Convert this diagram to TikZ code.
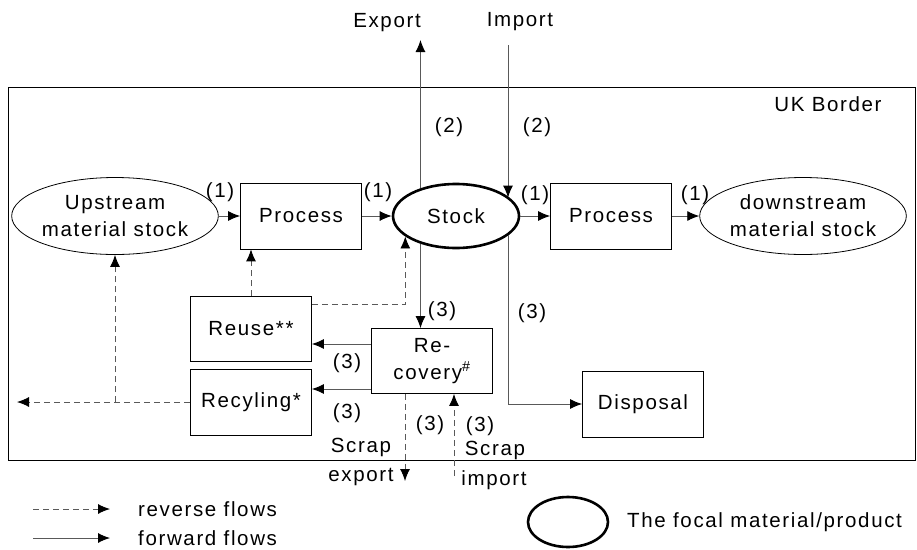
\documentclass[tikz,border=0pt]{standalone}
\usepackage{fontspec}
\setmainfont[LetterSpace=8]{Liberation Sans}
\usetikzlibrary{shapes.geometric,arrows.meta}
\definecolor{flowgray}{gray}{0.35}

\begin{document}
\begin{tikzpicture}[x=1pt,y=-1pt,
    font=\fontsize{20.5}{27}\selectfont,
    box/.style={draw, line width=0.8pt, minimum width=121pt, minimum height=66pt, inner sep=0pt, align=center},
    pool/.style={draw, line width=0.8pt, ellipse, minimum width=191pt, minimum height=77pt, inner sep=0pt, align=center},
    focal/.style={draw, ellipse, line width=2.6pt, minimum width=126pt, minimum height=64pt, inner sep=0pt, fill=white},
    flow/.style={draw=flowgray, line width=0.9pt, -{Latex[length=12pt,width=10pt,color=black]}},
    rflow/.style={flow, dash pattern=on 6pt off 4pt},
    lbl/.style={inner sep=0pt}]
    \useasboundingbox (0,0) rectangle (917,549);
    % UK border
    \draw[line width=0.8pt] (8,87) rectangle (915,460);
    \node[lbl] (border) at (828,104) {UK Border};
    % Main chain
    \node[pool] (upstream) at (115,216) {Upstream\\material stock};
    \node[box] (process1) at (301,216) {Process};
    \node[focal] (stock) at (456,216) {Stock};
    \node[box] (process2) at (611,216) {Process};
    \node[pool] (downstream) at (803,216) {downstream\\material stock};
    % End of life
    \node[box, minimum height=65pt] (reuse) at (251,329) {Reuse**};
    \node[box] (recycle) at (251,402) {Recyling*};
    \node[box, minimum height=65pt] (recovery) at (432,361) {Re-\\covery\textsuperscript{\#}};
    \node[box] (disposal) at (643,404) {Disposal};
    % Forward flows
    \draw[flow] (upstream) -- (process1);
    \draw[flow] (process1) -- (stock);
    \draw[flow] (stock) -- (process2);
    \draw[flow] (process2) -- (downstream);
    \node[lbl] (l1a) at (220,192) {(1)};
    \node[lbl] (l1b) at (378,192) {(1)};
    \node[lbl] (l1c) at (535,195) {(1)};
    \node[lbl] (l1d) at (695,195) {(1)};
    % Trade
    \node[lbl] (exportlbl) at (387,23) {Export};
    \node[lbl] (importlbl) at (520,22) {Import};
    \coordinate (exporttip) at (422,40);
    \coordinate (importtop) at (508,45);
    \draw[flow] (stock.142) -- (stock.142 |- exporttip);
    \draw[flow] (importtop) -- (importtop |- stock.19);
    \node[lbl] (l2a) at (449,127) {(2)};
    \node[lbl] (l2b) at (537,127) {(2)};
    % Stock outflows
    \draw[flow] (stock.218) -- (stock.218 |- recovery.north);
    \draw[flow] (stock.340) |- (disposal);
    \draw[flow] ([yshift=17pt]recovery.west) coordinate (rv1) -- (rv1 -| reuse.east);
    \draw[flow] ([yshift=-28pt]recovery.west) coordinate (rv2) -- (rv2 -| recycle.east);
    \node[lbl] (l3a) at (442,311) {(3)};
    \node[lbl] (l3b) at (532,313) {(3)};
    \node[lbl] (l3c) at (347,363) {(3)};
    \node[lbl] (l3d) at (347,413) {(3)};
    % Reverse flows
    \coordinate (leftend) at (17,402);
    \draw[rflow] (reuse.north) -- (reuse.north |- process1.south);
    \draw[rflow] ([yshift=-8pt]reuse.north east) -| (stock.202);
    \draw[rflow] (recycle.west) -- (leftend);
    \draw[rflow] (upstream.south |- recycle.west) -- (upstream.south);
    % Scrap trade
    \coordinate (scrapout) at (405,481);
    \coordinate (scrapin) at (454,476);
    \draw[rflow] (scrapout |- recovery.south) -- (scrapout);
    \draw[rflow] (scrapin) -- (scrapin |- recovery.south);
    \node[lbl] (l3e) at (430,425) {(3)};
    \node[lbl] (l3f) at (480,426) {(3)};
    \node[lbl] (scrapa) at (361,447) {Scrap};
    \node[lbl] (exporttxt) at (361,477) {export};
    \node[lbl] (scrapb) at (495,450) {Scrap};
    \node[lbl] (importtxt) at (494,480) {import};
    % Legend
    \coordinate (rleg) at (33,509);
    \coordinate (rlegend) at (110,509);
    \coordinate (fleg) at (33,538);
    \coordinate (flegend) at (110,538);
    \node[lbl, anchor=west] (revtxt) at (138,509) {reverse flows};
    \node[lbl, anchor=west] (fwdtxt) at (138,538) {forward flows};
    \draw[rflow] (rleg) -- (rlegend);
    \draw[flow] (fleg) -- (flegend);
    \node[focal, minimum width=80pt, minimum height=50pt] (focalkey) at (568,522) {};
    \node[lbl, anchor=west] (focaltxt) at (627,522) {The focal material/product};
\end{tikzpicture}
\end{document}
